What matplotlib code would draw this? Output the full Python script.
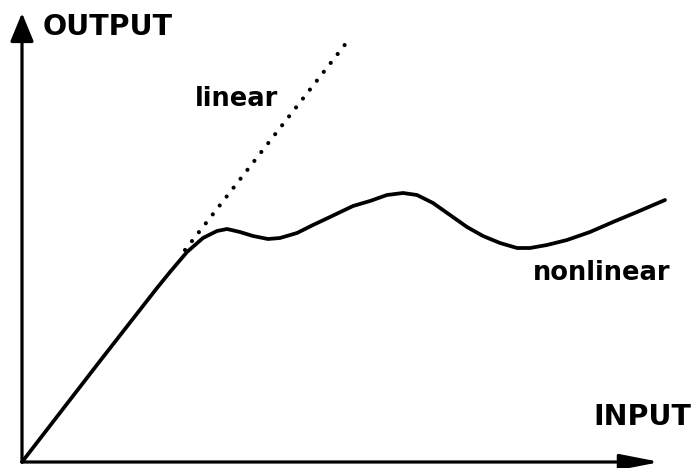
import matplotlib
matplotlib.use("Agg")
import matplotlib.pyplot as plt

# Nonlinear response (input, output)
nonlinear_x = [0, 78, 135, 148, 165, 181, 195, 205, 218, 231, 246, 258, 275, 291, 308,
               331, 348, 365, 381, 395, 411, 428, 445, 461, 478, 495, 508, 525, 545,
               568, 591, 615, 643]
nonlinear_y = [0, 101, 174, 190, 210, 224, 231, 233, 230, 226, 223, 224, 229, 237, 245,
               256, 261, 267, 269, 267, 259, 247, 235, 226, 219, 214, 214, 217, 222,
               230, 240, 250, 262]

# Linear extrapolation (dotted)
linear_x = [163, 325]
linear_y = [212, 420]

# Axis extents
x_axis_end = 638
y_axis_end = 449

labels = {"OUTPUT": (21, 427), "INPUT": (571, 37), "linear": (173, 356), "nonlinear": (511, 182)}

fig = plt.figure(figsize=(6.94, 4.68), dpi=100)
ax = fig.add_axes([0, 0, 1, 1])
ax.set_xlim(-22, 672)
ax.set_ylim(-6, 462)
ax.axis("off")

ax.plot(nonlinear_x, nonlinear_y, color="black", lw=2.7, solid_capstyle="round",
        solid_joinstyle="round")
ax.plot(linear_x, linear_y, color="black", lw=3.0, linestyle=(0, (0.01, 2.7)),
        dash_capstyle="round")

ax.annotate("", xy=(0, y_axis_end), xytext=(0, 0),
            arrowprops=dict(arrowstyle="-|>,head_length=1.75,head_width=0.72",
                            mutation_scale=10, lw=2.3, color="black",
                            shrinkA=0, shrinkB=0))
ax.annotate("", xy=(x_axis_end, 0), xytext=(0, 0),
            arrowprops=dict(arrowstyle="-|>,head_length=2.4,head_width=0.47",
                            mutation_scale=10, lw=2.3, color="black",
                            shrinkA=0, shrinkB=0))

for txt, (tx, ty) in labels.items():
    size = 20.5 if txt.isupper() else 18.5
    ax.text(tx, ty, txt, fontsize=size, fontweight="bold", family="DejaVu Sans",
            ha="left", va="baseline", color="black")

fig.savefig("out.png", dpi=100)
